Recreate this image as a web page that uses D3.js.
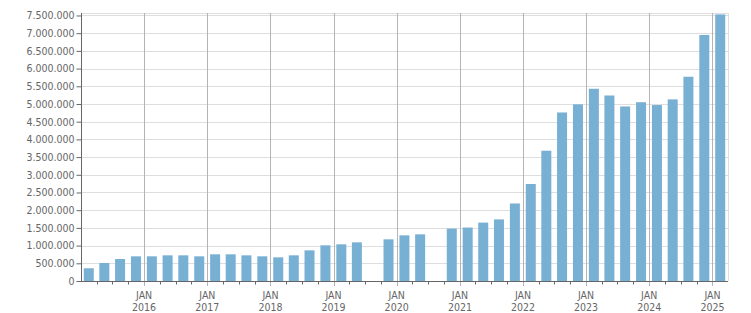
<!DOCTYPE html>
<html>
<head>
<meta charset="utf-8">
<script src="https://cdn.jsdelivr.net/npm/d3@7"></script>
<style>
  body { margin: 0; background: #fff; }
  text { font-family: "DejaVu Sans Condensed", "DejaVu Sans", sans-serif; font-size: 10.5px; fill: #666; }
</style>
</head>
<body>
<div id="chart"></div>
<script>
// quarterly values, null = no data for that quarter
var quarters = ["2015-01", "2015-04", "2015-07", "2015-10",
                "2016-01", "2016-04", "2016-07", "2016-10",
                "2017-01", "2017-04", "2017-07", "2017-10",
                "2018-01", "2018-04", "2018-07", "2018-10",
                "2019-01", "2019-04", "2019-07", "2019-10",
                "2020-01", "2020-04", "2020-07", "2020-10",
                "2021-01", "2021-04", "2021-07", "2021-10",
                "2022-01", "2022-04", "2022-07", "2022-10",
                "2023-01", "2023-04", "2023-07", "2023-10",
                "2024-01", "2024-04", "2024-07", "2024-10",
                "2025-01"];
var values = [360000, 508000, 621000, 697000,
              697000, 725000, 725000, 697000,
              754000, 754000, 725000, 697000,
              669000, 725000, 866000, 1008000,
              1036000, 1092000, null, 1177000,
              1290000, 1318000, null, 1480000,
              1510000, 1650000, 1740000, 2190000,
              2740000, 3680000, 4760000, 4990000,
              5430000, 5240000, 4930000, 5050000,
              4970000, 5130000, 5770000, 6950000,
              7530000];
var yTicks = d3.range(0, 7500001, 500000);
var monthNames = ["JAN", "FEB", "MAR", "APR", "MAY", "JUN", "JUL", "AUG", "SEP", "OCT", "NOV", "DEC"];

var w = 751, h = 313;
var m = {top: 13, right: 23, bottom: 32, left: 81};

var parse = d3.timeParse("%Y-%m");
var data = quarters.map(function (q, i) { return {date: parse(q), value: values[i]}; })
    .filter(function (d) { return d.value != null; });

var locale = d3.formatLocale({decimal: ",", thousands: ".", grouping: [3], currency: ["", ""]});
var fmt = locale.format(",d");

var svg = d3.select("#chart").append("svg").attr("width", w).attr("height", h);

var x = d3.scaleTime()
    .domain([parse("2015-01"), parse("2025-04")])
    .range([m.left, w - m.right]);
var y = d3.scaleLinear()
    .domain([0, 7570000])
    .range([h - m.bottom, m.top]);

// horizontal grid
svg.append("g").selectAll("line").data(yTicks).enter().append("line")
    .attr("x1", m.left).attr("x2", w - m.right)
    .attr("y1", function (d) { return Math.round(y(d)) + 0.5; })
    .attr("y2", function (d) { return Math.round(y(d)) + 0.5; })
    .attr("stroke", "#dedede");

// frame top / right
svg.append("line").attr("x1", m.left).attr("x2", w - m.right)
    .attr("y1", m.top + 0.5).attr("y2", m.top + 0.5).attr("stroke", "#dedede");
svg.append("line").attr("x1", w - m.right + 0.5).attr("x2", w - m.right + 0.5)
    .attr("y1", m.top).attr("y2", h - m.bottom).attr("stroke", "#dedede");

// vertical grid at each january
var years = x.ticks(d3.timeYear.every(1)).filter(function (d) { return +d > +x.domain()[0]; });
svg.append("g").selectAll("line").data(years).enter().append("line")
    .attr("x1", function (d) { return Math.round(x(d)) + 0.5; })
    .attr("x2", function (d) { return Math.round(x(d)) + 0.5; })
    .attr("y1", m.top).attr("y2", h - m.bottom + 5)
    .attr("stroke", "#b4b4b4");

// bars
var slot = x(parse("2015-04")) - x(parse("2015-01"));
var barW = 10;
svg.append("g").selectAll("rect").data(data).enter().append("rect")
    .attr("x", function (d) { return x(d.date) + (slot - barW) / 2; })
    .attr("y", function (d) { return y(d.value); })
    .attr("width", barW)
    .attr("height", function (d) { return y(0) - y(d.value); })
    .attr("fill", "#78b0d3");

// y axis
var yAxis = svg.append("g").attr("transform", "translate(" + (m.left + 0.5) + ",0)")
    .call(d3.axisLeft(y).tickValues(yTicks).tickFormat(fmt).tickSize(5).tickPadding(2));
yAxis.select(".domain").attr("stroke", "#666").attr("d", "M0," + m.top + "V" + (h - m.bottom));
yAxis.selectAll(".tick line").attr("stroke", "#666");
yAxis.selectAll("text").attr("fill", "#666").attr("font-family", null).attr("font-size", null);

// x axis: minor quarter ticks and year labels
var quarterTicks = x.ticks(d3.timeMonth.every(3)).filter(function (d) {
    return +d > +x.domain()[0] && +d < +x.domain()[1] && d.getMonth() != 0;
});
var xAxis = svg.append("g").attr("transform", "translate(0," + (h - m.bottom + 0.5) + ")");
xAxis.append("line").attr("x1", m.left).attr("x2", w - m.right).attr("stroke", "#666");
xAxis.selectAll(".minor").data(quarterTicks).enter().append("line")
    .attr("class", "minor")
    .attr("x1", function (d) { return Math.round(x(d)) + 0.5; })
    .attr("x2", function (d) { return Math.round(x(d)) + 0.5; })
    .attr("y1", 0).attr("y2", 3)
    .attr("stroke", "#666");
var lbl = xAxis.selectAll(".lbl").data(years).enter().append("text")
    .attr("class", "lbl")
    .attr("text-anchor", "middle")
    .attr("transform", function (d) { return "translate(" + x(d) + ",0)"; });
lbl.append("tspan").attr("x", 0).attr("y", 17).text(function (d) { return monthNames[d.getMonth()]; });
lbl.append("tspan").attr("x", 0).attr("y", 29.5).text(function (d) { return d.getFullYear(); });
</script>
</body>
</html>
